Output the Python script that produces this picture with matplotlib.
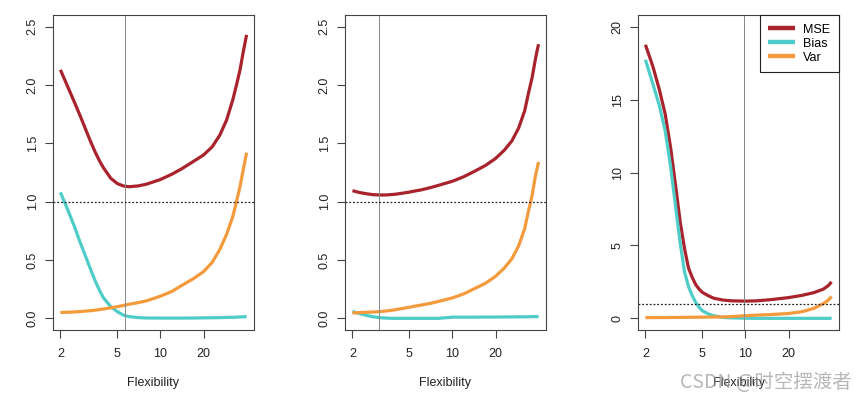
import matplotlib
matplotlib.use("Agg")
import matplotlib.pyplot as plt

plt.rcParams['font.family'] = ['Liberation Sans', 'DejaVu Sans']

# flexibility grid for the first two panels
x_flex = [2, 2.25, 2.5, 2.75, 3, 3.25, 3.5, 3.75, 4, 4.5, 5, 5.5, 6, 7, 8, 10, 12, 14, 17,
          20, 23, 26, 29, 32, 34, 36, 38, 39, 40]

# panel 1
mse_1 = [2.13, 1.985, 1.855, 1.735, 1.62, 1.515, 1.425, 1.35, 1.29, 1.2, 1.155, 1.135, 1.128, 1.135, 1.15,
         1.19, 1.235, 1.28, 1.345, 1.40, 1.47, 1.57, 1.70, 1.87, 2.0, 2.13, 2.29, 2.36, 2.43]
bias_1 = [1.08, 0.93, 0.79, 0.65, 0.53, 0.42, 0.32, 0.24, 0.175, 0.10, 0.057, 0.028, 0.015, 0.006, 0.003,
          0.002, 0.002, 0.002, 0.003, 0.004, 0.005, 0.006, 0.008, 0.009, 0.01, 0.012, 0.013, 0.014, 0.015]
var_1 = [0.05, 0.052, 0.055, 0.058, 0.062, 0.066, 0.07, 0.075, 0.08, 0.09, 0.10, 0.11, 0.12, 0.135, 0.15,
         0.19, 0.23, 0.28, 0.34, 0.40, 0.48, 0.59, 0.72, 0.87, 1.0, 1.13, 1.28, 1.35, 1.42]

# panel 2
mse_2 = [1.094, 1.078, 1.068, 1.061, 1.058, 1.057, 1.058, 1.061, 1.064, 1.073, 1.082, 1.092, 1.10, 1.12, 1.14,
         1.175, 1.214, 1.255, 1.31, 1.37, 1.44, 1.52, 1.63, 1.78, 1.93, 2.06, 2.22, 2.29, 2.35]
bias_2 = [0.058, 0.04, 0.026, 0.015, 0.008, 0.004, 0.002, 0.0, 0.0, 0.0, 0.0, 0.0, 0.0, 0.0, 0.0,
          0.01, 0.01, 0.01, 0.011, 0.011, 0.012, 0.012, 0.013, 0.013, 0.014, 0.014, 0.015, 0.015, 0.015]
var_2 = [0.046, 0.049, 0.052, 0.054, 0.056, 0.06, 0.064, 0.069, 0.074, 0.085, 0.095, 0.105, 0.113, 0.128, 0.145,
         0.175, 0.21, 0.25, 0.30, 0.36, 0.43, 0.51, 0.62, 0.77, 0.92, 1.05, 1.22, 1.28, 1.34]

# panel 3 (finer grid where the curves drop)
x_flex_3 = [2, 2.25, 2.5, 2.75, 3, 3.25, 3.5, 3.75, 4, 4.25, 4.5, 4.75, 5, 5.5, 6, 7, 8, 10, 12, 15,
            20, 25, 30, 35, 38, 40]
mse_3 = [18.76, 17.3, 15.7, 14.0, 11.7, 9.1, 6.6, 4.8, 3.45, 2.8, 2.3, 2.0, 1.78, 1.55, 1.38, 1.25, 1.2,
         1.18, 1.2, 1.28, 1.42, 1.58, 1.76, 2.0, 2.25, 2.5]
bias_3 = [17.73, 16.1, 14.6, 12.85, 10.4, 7.65, 5.16, 3.2, 2.18, 1.55, 1.07, 0.75, 0.52, 0.3, 0.18, 0.06, 0.03,
          0.01, 0.0, 0.0, 0.0, 0.0, 0.0, 0.0, 0.0, 0.0]
var_3 = [0.05, 0.05, 0.055, 0.055, 0.06, 0.06, 0.065, 0.065, 0.07, 0.072, 0.075, 0.078, 0.08, 0.085, 0.09,
         0.1, 0.12, 0.18, 0.22, 0.26, 0.33, 0.46, 0.68, 1.0, 1.25, 1.5]

best_flex = [5.63, 3.06, 9.7]
x_ticks = [2, 5, 10, 20]

MSE_COLOR = "#A8232B"
BIAS_COLOR = "#4ECDC8"
VAR_COLOR = "#F39A3C"

panels = [
    (x_flex, mse_1, bias_1, var_1, (-0.1, 2.6), [0, 0.5, 1.0, 1.5, 2.0, 2.5], "{:.1f}"),
    (x_flex, mse_2, bias_2, var_2, (-0.1, 2.6), [0, 0.5, 1.0, 1.5, 2.0, 2.5], "{:.1f}"),
    (x_flex_3, mse_3, bias_3, var_3, (-0.8, 20.8), [0, 5, 10, 15, 20], "{:.0f}"),
]
lefts = [53 / 867, 345 / 867, 638 / 867]

fig = plt.figure(figsize=(8.67, 4), dpi=100)

for i, (xs, mse, bias, var, ylim, yticks, fmt) in enumerate(panels):
    ax = fig.add_axes([lefts[i], 0.175, 201 / 867, 0.7875])
    ax.set_xscale('log')
    ax.plot(xs, mse, color=MSE_COLOR, lw=2.3, label="MSE", solid_capstyle='butt', solid_joinstyle='round')
    ax.plot(xs, bias, color=BIAS_COLOR, lw=2.3, label="Bias", solid_capstyle='butt', solid_joinstyle='round')
    ax.plot(xs, var, color=VAR_COLOR, lw=2.3, label="Var", solid_capstyle='butt', solid_joinstyle='round')
    ax.axvline(best_flex[i], color="#888888", lw=0.7)
    ax.axhline(1.0, color="#222222", lw=0.9, linestyle=(0, (1.5, 1.5)))

    ax.set_xlim(2 / 1.127, 40 * 1.127)
    ax.set_ylim(*ylim)
    ax.set_xticks(x_ticks)
    ax.set_xticklabels([str(t) for t in x_ticks])
    ax.xaxis.set_minor_locator(matplotlib.ticker.NullLocator())
    ax.set_yticks(yticks)
    ax.set_yticklabels([fmt.format(t) for t in yticks], rotation=90, va='center')

    ax.tick_params(direction='out', length=5.8, width=0.8, color="#444444",
                   labelsize=9, labelcolor="#222222", pad=7)
    ax.tick_params(axis='y', pad=4.5)
    for sp in ax.spines.values():
        sp.set_color("#444444")
        sp.set_linewidth(0.8)

    ax.set_xlabel("Flexibility", fontsize=9, color="#222222", va='center')
    ax.xaxis.set_label_coords(0.5, -0.168)

    if i == 2:
        leg = ax.legend(loc='upper right', borderaxespad=0, fontsize=9,
                        fancybox=False, framealpha=1, edgecolor="#222222",
                        handlelength=2.1, handletextpad=0.7, labelspacing=0.15,
                        borderpad=0.7)
        leg.get_frame().set_linewidth(0.8)
        for line in leg.get_lines():
            line.set_linewidth(3.2)

fig.text(0.983, 0.045, "CSDN @时空摆渡者", ha='right', va='center', fontsize=14,
         color="#999999", alpha=0.7, family=['Noto Sans CJK SC', 'DejaVu Sans'])

fig.savefig("out.png", dpi=100)
